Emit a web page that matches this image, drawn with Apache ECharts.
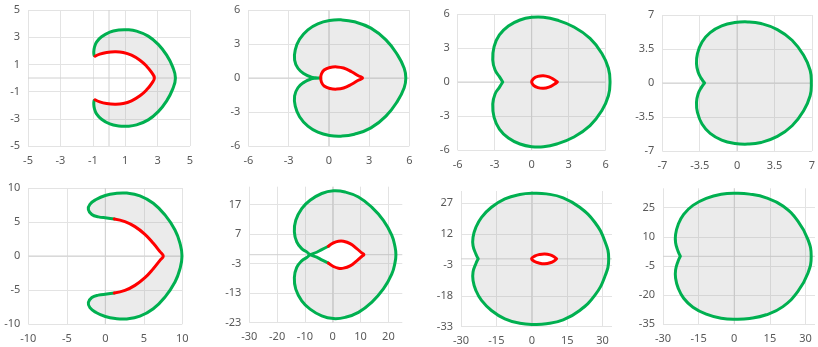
<!DOCTYPE html>
<html><head><meta charset="utf-8">
<script src="https://cdn.jsdelivr.net/npm/echarts@6/dist/echarts.min.js"></script>
<style>html,body{margin:0;padding:0;background:#fff}#c{width:818px;height:347px}</style>
</head><body><div id="c"></div><script>
// ---- data (x, y pairs) ----
const p1Green = [[-0.92,1.66],[-0.94,1.9],[-0.9,2.25],[-0.77,2.64],[-0.46,3.03],[0.05,3.38],[0.6,3.53],[1.1,3.55],[1.7,3.45],[2.42,3.08],[3.04,2.47],[3.56,1.68],[3.93,0.82],[4.1,0],[3.93,-0.82],[3.56,-1.68],[3.04,-2.47],[2.42,-3.08],[1.7,-3.45],[1.1,-3.55],[0.6,-3.53],[0.05,-3.38],[-0.46,-3.03],[-0.77,-2.64],[-0.9,-2.25],[-0.94,-1.9],[-0.92,-1.66]];
const p1Red = [[-0.86,1.6],[-0.57,1.76],[-0.15,1.88],[0.36,1.93],[0.88,1.88],[1.39,1.68],[1.91,1.31],[2.32,0.87],[2.63,0.41],[2.8,0],[2.63,-0.41],[2.32,-0.87],[1.91,-1.31],[1.39,-1.68],[0.88,-1.88],[0.36,-1.93],[-0.15,-1.88],[-0.57,-1.76],[-0.86,-1.6]];

const p2Green = [[-0.6,0],[-1.0,0.02],[-1.35,0.1],[-1.81,0.35],[-2.3,0.86],[-2.55,1.59],[-2.5,2.48],[-2.18,3.42],[-1.56,4.25],[-0.82,4.78],[0.05,5.07],[0.92,5.13],[1.91,4.96],[3.14,4.4],[4.26,3.36],[5.12,2.04],[5.62,0.86],[5.74,0],[5.62,-0.86],[5.12,-2.04],[4.26,-3.36],[3.14,-4.4],[1.91,-4.96],[0.92,-5.13],[0.05,-5.07],[-0.82,-4.78],[-1.56,-4.25],[-2.18,-3.42],[-2.5,-2.48],[-2.55,-1.59],[-2.3,-0.86],[-1.81,-0.35],[-1.35,-0.1],[-1.0,-0.02],[-0.6,0]];
const p2Red = [[-0.6,0],[-0.55,0.35],[-0.35,0.7],[0.1,0.93],[0.6,0.98],[1.1,0.88],[1.7,0.55],[2.2,0.2],[2.52,0],[2.2,-0.2],[1.7,-0.55],[1.1,-0.88],[0.6,-0.98],[0.1,-0.93],[-0.35,-0.7],[-0.55,-0.35],[-0.6,0]];

const p3Green = [[-2.35,0],[-2.62,0.47],[-2.97,1.06],[-3.16,1.94],[-3.05,3.12],[-2.62,4.15],[-1.89,4.94],[-0.95,5.47],[0,5.71],[0.95,5.72],[2.03,5.47],[3.38,4.88],[4.73,3.85],[5.68,2.53],[6.22,1.21],[6.35,0],[6.22,-1.21],[5.68,-2.53],[4.73,-3.85],[3.38,-4.88],[2.03,-5.47],[0.95,-5.72],[0,-5.71],[-0.95,-5.47],[-1.89,-4.94],[-2.62,-4.15],[-3.05,-3.12],[-3.16,-1.94],[-2.97,-1.06],[-2.62,-0.47],[-2.35,0]];
const p3Red = [[2.08,0],[1.8,0.22],[1.4,0.45],[0.95,0.56],[0.5,0.5],[0.15,0.3],[0,0],[0.15,-0.3],[0.5,-0.5],[0.95,-0.56],[1.4,-0.45],[1.8,-0.22],[2.08,0]];

const p4Green = [[-3.04,0],[-3.34,0.45],[-3.65,1.13],[-3.8,1.99],[-3.71,3.02],[-3.28,4.23],[-2.52,5.19],[-1.44,5.88],[-0.21,6.22],[1.01,6.29],[2.24,6.12],[3.77,5.5],[5.15,4.4],[6.23,2.85],[6.84,1.31],[6.95,0],[6.84,-1.31],[6.23,-2.85],[5.15,-4.4],[3.77,-5.5],[2.24,-6.12],[1.01,-6.29],[-0.21,-6.22],[-1.44,-5.88],[-2.52,-5.19],[-3.28,-4.23],[-3.71,-3.02],[-3.8,-1.99],[-3.65,-1.13],[-3.34,-0.45],[-3.04,0]];

const p5Green = [[1.17,5.45],[0.2,5.6],[-0.9,5.75],[-1.75,6.1],[-2.2,6.85],[-2.0,7.6],[-1.2,8.3],[0,8.9],[1.3,9.2],[2.8,9.25],[4.5,8.85],[6.23,7.76],[7.75,6.04],[9.05,3.83],[9.7,1.87],[9.96,0],[9.7,-1.87],[9.05,-3.83],[7.75,-6.04],[6.23,-7.76],[4.5,-8.85],[2.8,-9.25],[1.3,-9.2],[0,-8.9],[-1.2,-8.3],[-2.0,-7.6],[-2.2,-6.85],[-1.75,-6.1],[-0.9,-5.75],[0.2,-5.6],[1.17,-5.45]];
const p5Red = [[1.17,5.45],[2.55,5.06],[3.85,4.32],[5.15,3.19],[6.23,1.87],[7.1,0.64],[7.53,0],[7.1,-0.64],[6.23,-1.87],[5.15,-3.19],[3.85,-4.32],[2.55,-5.06],[1.17,-5.45]];

const p6Green = [[-1.56,2.86],[-3.96,1.74],[-5.76,0.83],[-8.1,0],[-9.35,-0.95],[-11.15,-2.07],[-12.95,-4.32],[-13.8,-7.7],[-13.3,-11.65],[-11.15,-15.6],[-8.15,-18.4],[-3.96,-20.7],[0.24,-21.6],[4.44,-21.2],[9.23,-19.5],[14.0,-16.1],[18.2,-11.6],[21.2,-6.6],[22.4,-2.6],[22.7,0],[22.4,2.6],[21.2,6.6],[18.2,11.6],[14.0,16.1],[9.23,19.5],[4.44,21.2],[0.24,21.6],[-3.96,20.7],[-8.15,18.4],[-11.15,15.6],[-13.3,11.65],[-13.8,7.7],[-12.95,4.32],[-11.15,2.07],[-9.35,0.95],[-8.1,0],[-5.76,-0.83],[-3.96,-1.74],[-1.56,-2.86]];
const p6Red = [[-1.56,2.86],[0.24,3.99],[2.04,4.55],[3.84,4.55],[6.24,3.76],[8.63,2.07],[10.4,0.61],[11.2,0],[10.4,-0.61],[8.63,-2.07],[6.24,-3.76],[3.84,-4.55],[2.04,-4.55],[0.24,-3.99],[-1.56,-2.86]];

const p7Green = [[-22.7,0],[-23.7,2.35],[-24.9,6.4],[-24.9,10.5],[-23.7,15.3],[-21.3,20.2],[-17.1,25.1],[-11.4,29.2],[-5.08,31.3],[0.56,31.9],[6.2,31.6],[13.3,29.7],[20.3,25.1],[26.7,17.8],[30.9,8.8],[32.6,0],[30.9,-8.8],[26.7,-17.8],[20.3,-25.1],[13.3,-29.7],[6.2,-31.6],[0.56,-31.9],[-5.08,-31.3],[-11.4,-29.2],[-17.1,-25.1],[-21.3,-20.2],[-23.7,-15.3],[-24.9,-10.5],[-24.9,-6.4],[-23.7,-2.35],[-22.7,0]];
const p7Red = [[10.5,0],[9.6,0.9],[7.8,1.9],[5.5,2.4],[3.2,2.1],[1.2,1.3],[-0.1,0],[1.2,-1.3],[3.2,-2.1],[5.5,-2.4],[7.8,-1.9],[9.6,-0.9],[10.5,0]];

const p8Green = [[-22.7,0],[-23.7,2.7],[-24.7,7.0],[-24.7,11.3],[-23.6,16.4],[-21.3,21.6],[-17.4,26.2],[-11.8,29.8],[-5.5,31.9],[0.84,32.4],[6.45,32.0],[13.5,30.1],[20.5,25.9],[26.8,18.1],[31.0,8.7],[32.4,0],[31.0,-8.7],[26.8,-18.1],[20.5,-25.9],[13.5,-30.1],[6.45,-32.0],[0.84,-32.4],[-5.5,-31.9],[-11.8,-29.8],[-17.4,-26.2],[-21.3,-21.6],[-23.6,-16.4],[-24.7,-11.3],[-24.7,-7.0],[-23.7,-2.7],[-22.7,0]];

// axis ranges [min, max, tick step]
const p1X = [-5,5,2],  p1Y = [-5,5,2];
const p2X = [-6,6,3],  p2Y = [-6,6,3];
const p3X = [-6,6,3],  p3Y = [-6,6,3];
const p4X = [-7,7,3.5],p4Y = [-7,7,3.5];
const p5X = [-10,10,5],p5Y = [-10,10,5];
const p6X = [-30,25,10],p6Y = [-23,23,10];
const p7X = [-30,34,15],p7Y = [-33,33,15];
const p8X = [-30,34,15],p8Y = [-35,35,15];

// ---- layout & style ----
const GREEN = '#00b050', RED = '#ff0000', FILL = 'rgba(166,166,166,0.22)';
const panels = [
  {grid:{left:28,top:10,width:162,height:136}, x:p1X, y:p1Y, green:p1Green, red:p1Red, fill:p1Green.concat(p1Red.slice().reverse()), hole:null},
  {grid:{left:248.3,top:10,width:161,height:136}, x:p2X, y:p2Y, green:p2Green, red:p2Red, fill:p2Green, hole:p2Red},
  {grid:{left:457.7,top:14,width:148,height:136}, x:p3X, y:p3Y, green:p3Green, red:p3Red, fill:p3Green, hole:p3Red},
  {grid:{left:662.3,top:15,width:152.4,height:136}, x:p4X, y:p4Y, green:p4Green, red:null, fill:p4Green, hole:null},
  {grid:{left:28.3,top:188,width:154,height:136}, x:p5X, y:p5Y, green:p5Green, red:p5Red, fill:p5Green.concat(p5Red.slice().reverse()), hole:null},
  {grid:{left:249.3,top:186.7,width:153,height:136}, x:p6X, y:p6Y, green:p6Green, red:p6Red, fill:p6Green.concat(p6Red.slice().reverse()),
     hole:p6Red.concat(p6Green.slice(-4).reverse(), p6Green.slice(0,4).reverse())},
  {grid:{left:461,top:191,width:151,height:135.7}, x:p7X, y:p7Y, green:p7Green, red:p7Red, fill:p7Green, hole:p7Red},
  {grid:{left:663,top:188.3,width:152,height:136}, x:p8X, y:p8Y, green:p8Green, red:null, fill:p8Green, hole:null}
];

function isAligned(span, step){ const r = span/step; return Math.abs(r-Math.round(r))<1e-9; }
function tickAxis(g, range, dim){
  const [mn,mx,st] = range, span = mx-mn, al = isAligned(span, st);
  return {type:'value', gridIndex:g, position: dim==='x'?'bottom':'left', min:0, max:span, interval:st,
    axisLine:{show:false}, axisTick:{show:false},
    axisLabel:{color:'#595959', fontSize:11, fontFamily:'Noto Sans', margin:dim==='x'?9:8,
      showMinLabel:true, showMaxLabel:al, formatter:v=>String(Math.round((v+mn)*1000)/1000)},
    splitLine:{show:true, showMinLine:true, showMaxLine:al, lineStyle:{color:'#e3e3e3', width:1}}};
}
function shapeSeries(kind, pts, a, style, z, smooth){
  return {type:'custom', xAxisIndex:a, yAxisIndex:a, z:z, silent:true, clip:false, data:[[0,0]],
    renderItem:(params, api)=>({type:kind, shape:{points:pts.map(q=>api.coord(q)), smooth:smooth||0}, style:style})};
}

const grids=[], xAxes=[], yAxes=[], series=[];
panels.forEach((p,i)=>{
  grids.push(Object.assign({containLabel:false}, p.grid));
  xAxes.push(tickAxis(i, p.x, 'x'));
  yAxes.push(tickAxis(i, p.y, 'y'));
  xAxes.push({type:'value', gridIndex:i, min:p.x[0], max:p.x[1], show:false});
  yAxes.push({type:'value', gridIndex:i, min:p.y[0], max:p.y[1], show:false});
  const a = 2*i+1;
  const zl = {stroke:'#d0d0d0', lineWidth:1, fill:null};
  series.push(shapeSeries('polyline', [[p.x[0],0],[p.x[1],0]], a, zl, 1));
  series.push(shapeSeries('polyline', [[0,p.y[0]],[0,p.y[1]]], a, zl, 1));
  series.push(shapeSeries('polygon', p.fill, a, {fill:FILL}, 2));
  if (p.hole) series.push(shapeSeries('polygon', p.hole, a, {fill:'#ffffff'}, 3));
  const ls = c => ({stroke:c, lineWidth:3, fill:null, lineCap:'round', lineJoin:'round'});
  series.push(shapeSeries('polyline', p.green, a, ls(GREEN), 4, 0.45));
  if (p.red) series.push(shapeSeries('polyline', p.red, a, ls(RED), 5, 0.45));
});

const chart = echarts.init(document.getElementById('c'), null, {renderer:'canvas'});
chart.setOption({animation:false, backgroundColor:'#ffffff', grid:grids, xAxis:xAxes, yAxis:yAxes, series:series});
</script></body></html>
